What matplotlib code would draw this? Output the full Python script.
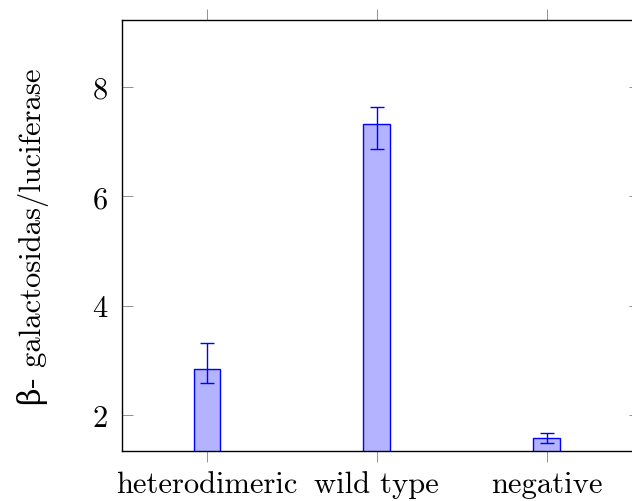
import matplotlib
matplotlib.use("Agg")
import matplotlib.pyplot as plt
import numpy as np

plt.rcParams['font.family'] = ['cmr10', 'DejaVu Serif']
plt.rcParams['mathtext.fontset'] = 'cm'
plt.rcParams['axes.formatter.use_mathtext'] = True

categories = ["heterodimeric", "wild type", "negative"]
values = [2.84, 7.33, 1.585]
err_low = [0.26, 0.47, 0.09]
err_high = [0.47, 0.31, 0.09]

fig = plt.figure(figsize=(6.32, 5.02), dpi=100)
ax = fig.add_axes([122/632, (502-451.7)/502, (640-122)/632, (451.7-21)/502])

x = np.arange(len(categories))
ax.bar(x, values, width=0.157, color="#b3b3ff", edgecolor="blue", linewidth=1.0,
       yerr=[err_low, err_high], error_kw=dict(ecolor="blue", elinewidth=1.0, capsize=5, capthick=1.0),
       zorder=2)

ax.set_xlim(-0.5, 2.55)
ax.set_ylim(1.347, 9.23)
ax.set_xticks(x)
ax.set_xticklabels(categories)
ax.set_yticks([2, 4, 6, 8])
ax.tick_params(axis="x", direction="out", length=8, width=0.6, color="gray", top=True, labelsize=22, pad=6)
ax.tick_params(axis="y", direction="in", length=8, width=0.6, color="gray", right=True, labelsize=22, pad=10)
for s in ax.spines.values():
    s.set_linewidth(1.0)
ax.set_ylabel("β- galactosidas/luciferase", fontsize=22, labelpad=31)

fig.savefig("out.png", dpi=100)
